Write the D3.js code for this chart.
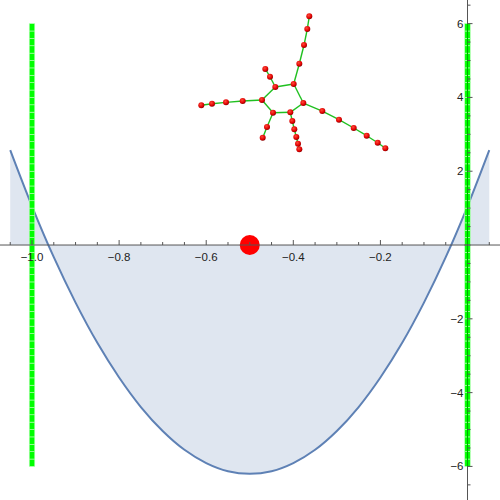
<!DOCTYPE html>
<html>
<head>
<meta charset="utf-8">
<script src="https://cdn.jsdelivr.net/npm/d3@7"></script>
<style>
  html, body { margin: 0; padding: 0; background: #fff; }
  svg { display: block; }
  text { font-family: "Liberation Sans", Arial, sans-serif; font-size: 11.5px; fill: #222; }
</style>
</head>
<body>
<svg id="chart"></svg>
<script>
// parabola, values
const curveX = [-1.05, -1.0, -0.95, -0.9, -0.85, -0.8, -0.75, -0.7, -0.65, -0.6, -0.55, -0.5,
                -0.45, -0.4, -0.35, -0.3, -0.25, -0.2, -0.15, -0.1, -0.05, 0.0, 0.05];
const curveY = [2.57, 1.05, -0.33, -1.56, -2.65, -3.59, -4.39, -5.04, -5.55, -5.91, -6.13, -6.2,
                -6.13, -5.91, -5.55, -5.04, -4.39, -3.59, -2.65, -1.56, -0.33, 1.05, 2.57];

// ticks
const xMajor = [-1.0, -0.8, -0.6, -0.4, -0.2];
const xMinor = [-1.05, -0.95, -0.9, -0.85, -0.75, -0.7, -0.65, -0.55, -0.5, -0.45, -0.35, -0.3, -0.25, -0.15, -0.1, -0.05, 0.05];
const yMajor = [-6, -4, -2, 2, 4, 6];
const yMinor = [-6.5, -5.5, -5, -4.5, -3.5, -3, -2.5, -1.5, -1, -0.5, 0.5, 1, 1.5, 2.5, 3, 3.5, 4.5, 5, 5.5, 6.5];

// green point columns
const greenX = [-1.0, 0.0];
const greenY = [-6, -5.8, -5.6, -5.4, -5.2, -5, -4.8, -4.6, -4.4, -4.2, -4, -3.8, -3.6, -3.4, -3.2, -3,
  -2.8, -2.6, -2.4, -2.2, -2, -1.8, -1.6, -1.4, -1.2, -1, -0.8, -0.6, -0.4, -0.2, 0, 0.2, 0.4, 0.6, 0.8,
  1, 1.2, 1.4, 1.6, 1.8, 2, 2.2, 2.4, 2.6, 2.8, 3, 3.2, 3.4, 3.6, 3.8, 4, 4.2, 4.4, 4.6, 4.8, 5, 5.2,
  5.4, 5.6, 5.8];

// big red point
const redPoint = [-0.5, 0];

// tree graph nodes and edges
const nodeX = [-0.3633, -0.3679, -0.3754, -0.3862, -0.3991, -0.4413, -0.4719, -0.4466, -0.4069, -0.3770,
  -0.4535, -0.4643, -0.5162, -0.5545, -0.5867, -0.6113, -0.4604, -0.4703, -0.4023, -0.3977, -0.3931,
  -0.3892, -0.3862, -0.3334, -0.2951, -0.2613, -0.2315, -0.2062, -0.1887];
const nodeY = [6.198, 5.854, 5.420, 4.913, 4.363, 4.282, 3.930, 3.585, 3.596, 3.848,
  4.561, 4.770, 3.902, 3.867, 3.829, 3.786, 3.198, 2.908, 3.360, 3.136, 2.927,
  2.745, 2.593, 3.631, 3.396, 3.171, 2.962, 2.772, 2.621];
const edges = [[0,1],[1,2],[2,3],[3,4],[4,5],[5,6],[6,7],[7,8],[8,9],[9,4],[5,10],[10,11],
  [6,12],[12,13],[13,14],[14,15],[7,16],[16,17],[8,18],[18,19],[19,20],[20,21],[21,22],
  [9,23],[23,24],[24,25],[25,26],[26,27],[27,28]];

const w = 500, h = 500;
const svg = d3.select('#chart').attr('width', w).attr('height', h);

const x = d3.scaleLinear().domain([-1.0735, 0.0746]).range([0, w]);
const y = d3.scaleLinear().domain([-6.91, 6.64]).range([h, 0]);

const pts = curveX.map((v, i) => [v, curveY[i]]);

// filling to the axis
svg.append('path')
  .datum(pts)
  .attr('d', d3.area().x(d => x(d[0])).y0(y(0)).y1(d => y(d[1])).curve(d3.curveCatmullRom))
  .attr('fill', '#dfe6f0');

svg.append('path')
  .datum(pts)
  .attr('d', d3.line().x(d => x(d[0])).y(d => y(d[1])).curve(d3.curveCatmullRom))
  .attr('fill', 'none')
  .attr('stroke', '#5e81b5')
  .attr('stroke-width', 2);

svg.append('circle')
  .attr('cx', x(redPoint[0]))
  .attr('cy', y(redPoint[1]))
  .attr('r', 10)
  .attr('fill', '#ff0000');

// green point columns
const step = y(0) - y(0.2);
greenX.forEach(gx => {
  svg.append('g').selectAll('rect').data(greenY).join('rect')
    .attr('x', x(gx) - 2.75)
    .attr('y', d => y(d + 0.2))
    .attr('width', 5.5)
    .attr('height', step)
    .attr('fill', '#00ff00')
    .attr('stroke', '#b8ffb8')
    .attr('stroke-width', 0.6);
});

// axes (drawn over the columns)
const axisColor = '#555';
const x0 = x(0), y0 = y(0);
svg.append('line').attr('x1', 0).attr('x2', w).attr('y1', y0).attr('y2', y0)
  .attr('stroke', axisColor).attr('stroke-width', 1);
svg.append('line').attr('x1', x0).attr('x2', x0).attr('y1', 0).attr('y2', h)
  .attr('stroke', axisColor).attr('stroke-width', 1);
// where the axis runs inside the green column it shows as dark green
svg.append('line').attr('x1', x0).attr('x2', x0).attr('y1', y(6)).attr('y2', y(-6))
  .attr('stroke', '#00a800').attr('stroke-width', 1);
svg.append('line').attr('x1', x0 - 3).attr('x2', x0 + 3).attr('y1', y0).attr('y2', y0)
  .attr('stroke', axisColor).attr('stroke-width', 1);

svg.selectAll('.xmaj').data(xMajor).join('line')
  .attr('x1', d => x(d)).attr('x2', d => x(d)).attr('y1', y0).attr('y2', y0 - 5)
  .attr('stroke', axisColor);
svg.selectAll('.xmin').data(xMinor).join('line')
  .attr('x1', d => x(d)).attr('x2', d => x(d)).attr('y1', y0).attr('y2', y0 - 3)
  .attr('stroke', axisColor);
svg.selectAll('.xlab').data(xMajor).join('text')
  .attr('x', d => x(d)).attr('y', y0 + 16)
  .attr('text-anchor', 'middle')
  .text(d => d3.format('.1f')(d).replace('-', '\u2212'));

svg.selectAll('.ymaj').data(yMajor).join('line')
  .attr('x1', x0).attr('x2', x0 + 5).attr('y1', d => y(d)).attr('y2', d => y(d))
  .attr('stroke', axisColor);
svg.selectAll('.ymin').data(yMinor).join('line')
  .attr('x1', x0).attr('x2', x0 + 3).attr('y1', d => y(d)).attr('y2', d => y(d))
  .attr('stroke', axisColor);
svg.selectAll('.ylab').data(yMajor).join('text')
  .attr('x', x0 - 4).attr('y', d => y(d) + 4)
  .attr('text-anchor', 'end')
  .text(d => String(d).replace('-', '\u2212'));

// graph
const defs = svg.append('defs');
const grad = defs.append('radialGradient').attr('id', 'ball').attr('cx', '40%').attr('cy', '35%').attr('r', '65%');
grad.append('stop').attr('offset', '0%').attr('stop-color', '#ff4a3a');
grad.append('stop').attr('offset', '70%').attr('stop-color', '#e00000');
grad.append('stop').attr('offset', '100%').attr('stop-color', '#8a0000');

svg.append('g').selectAll('line').data(edges).join('line')
  .attr('x1', d => x(nodeX[d[0]])).attr('y1', d => y(nodeY[d[0]]))
  .attr('x2', d => x(nodeX[d[1]])).attr('y2', d => y(nodeY[d[1]]))
  .attr('stroke', '#20c020')
  .attr('stroke-width', 1.4);

svg.append('g').selectAll('circle').data(nodeX).join('circle')
  .attr('cx', d => x(d))
  .attr('cy', (d, i) => y(nodeY[i]))
  .attr('r', 3)
  .attr('fill', 'url(#ball)');
</script>
</body>
</html>
